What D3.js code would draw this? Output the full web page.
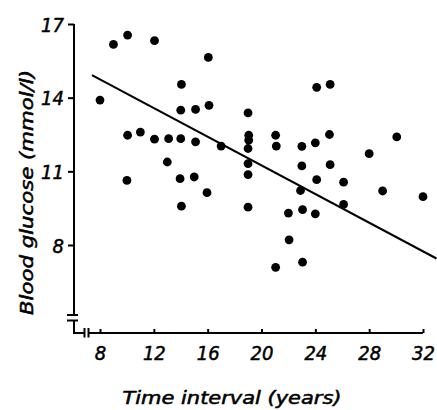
<!DOCTYPE html>
<html>
<head>
<meta charset="utf-8">
<script src="https://cdn.jsdelivr.net/npm/d3@7"></script>
<style>
  html, body { margin: 0; padding: 0; background: #fff; }
  svg { display: block; }
</style>
</head>
<body>
<svg id="chart" width="437" height="410"></svg>
<script>
// ---- data ----
const timeYears = [8.0, 9.0, 10.05, 12.05, 16.05, 14.05, 14.0, 15.1, 16.1, 10.05, 11.0, 12.05, 13.1, 14.0, 15.1, 17.0,
  13.0, 10.0, 13.95, 15.0, 15.95, 14.05, 19.0, 19.05, 19.05, 19.0, 19.0, 19.0, 19.0, 21.05, 21.1, 23.0, 23.0, 22.9,
  24.1, 25.1, 24.0, 25.05, 25.1, 24.1, 26.1, 26.1, 28.0, 29.0, 30.05, 32.0, 22.0, 23.05, 24.0, 22.05, 21.05, 23.05];
const glucose = [13.9, 16.17, 16.55, 16.32, 15.64, 14.54, 13.49, 13.52, 13.69, 12.47, 12.6, 12.31, 12.33, 12.33, 12.2, 12.03,
  11.38, 10.63, 10.7, 10.77, 10.13, 9.58, 13.38, 12.47, 12.27, 11.93, 11.31, 10.87, 9.54, 12.47, 12.03, 12.02, 11.22, 10.22,
  14.42, 14.54, 12.16, 12.5, 11.27, 10.66, 10.56, 9.65, 11.72, 10.2, 12.4, 9.97, 9.3, 9.44, 9.27, 8.21, 7.09, 7.3];
const xTicks = [8, 12, 16, 20, 24, 28, 32];
const yTicks = [8, 11, 14, 17];
const fitX = [7.4, 33.0];
const fitY = [14.92, 7.45];
const xTitle = "Time interval (years)";
const yTitle = "Blood glucose (mmol/l)";

// ---- drawing ----
const FONT = '"DejaVu Sans Condensed", "DejaVu Sans", sans-serif';
const svg = d3.select("#chart");
const x = d3.scaleLinear().domain([8, 32]).range([100, 423]);
const y = d3.scaleLinear().domain([8, 17]).range([245, 24]);

const axisX0 = 74;      // y-axis line position
const axisY0 = 333;     // x-axis line position
const lw = 2;

function styleText(sel, size) {
  sel.attr("font-family", FONT).attr("font-size", size)
    .style("font-style", "italic").style("font-stretch", "condensed")
    .attr("fill", "#000").attr("stroke", "#000").attr("stroke-width", 0.5);
}

// y axis ticks + labels
const gy = svg.append("g").attr("transform", `translate(${axisX0},0)`)
  .call(d3.axisLeft(y).tickValues(yTicks).tickSize(6).tickPadding(4).tickFormat(d3.format("d")));
gy.select(".domain").remove();
gy.attr("font-family", null).attr("font-size", null);
gy.selectAll(".tick line").attr("stroke", "#000").attr("stroke-width", lw);
styleText(gy.selectAll(".tick text").attr("dy", "0.36em"), 20);

// x axis ticks + labels (ticks point up)
const gx = svg.append("g").attr("transform", `translate(0,${axisY0})`)
  .call(d3.axisBottom(x).tickValues(xTicks).tickSize(-4).tickPadding(13).tickFormat(d3.format("d")));
gx.select(".domain").remove();
gx.attr("font-family", null).attr("font-size", null);
gx.selectAll(".tick line").attr("stroke", "#000").attr("stroke-width", lw);
styleText(gx.selectAll(".tick text"), 20);

// axis lines with breaks
const axes = svg.append("g").attr("stroke", "#000").attr("stroke-width", lw).attr("fill", "none");
const yTop = y(17);
axes.append("path").attr("d", `M${axisX0},${yTop} V${axisY0 - 18}`);
axes.append("path").attr("d", `M${axisX0},${axisY0 - 12} V${axisY0} H${axisX0 + 10.5}`);
axes.append("path").attr("d", `M${axisX0 - 7},${axisY0 - 18} H${axisX0 + 4}`);
axes.append("path").attr("d", `M${axisX0 - 7},${axisY0 - 12.5} H${axisX0 + 4}`);
axes.append("path").attr("d", `M${axisX0 + 10.5},${axisY0 - 5} V${axisY0 + 4.5}`);
axes.append("path").attr("d", `M${axisX0 + 14.5},${axisY0 - 5} V${axisY0 + 4.5}`);
axes.append("path").attr("d", `M${axisX0 + 14.5},${axisY0} H${x(32)}`);

// regression line
svg.append("line")
  .attr("x1", x(fitX[0])).attr("y1", y(fitY[0]))
  .attr("x2", x(fitX[1])).attr("y2", y(fitY[1]))
  .attr("stroke", "#000").attr("stroke-width", 2);

// points
svg.append("g").selectAll("circle")
  .data(d3.range(timeYears.length))
  .join("circle")
  .attr("cx", i => x(timeYears[i]))
  .attr("cy", i => y(glucose[i]))
  .attr("r", 4.4)
  .attr("fill", "#000");

// titles
styleText(svg.append("text")
  .attr("x", 232).attr("y", 404)
  .attr("text-anchor", "middle")
  .attr("textLength", 219).attr("lengthAdjust", "spacingAndGlyphs")
  .text(xTitle), 18);

styleText(svg.append("text")
  .attr("transform", "translate(33,192.5) rotate(-90)")
  .attr("text-anchor", "middle")
  .attr("textLength", 245).attr("lengthAdjust", "spacingAndGlyphs")
  .text(yTitle), 18);
</script>
</body>
</html>
